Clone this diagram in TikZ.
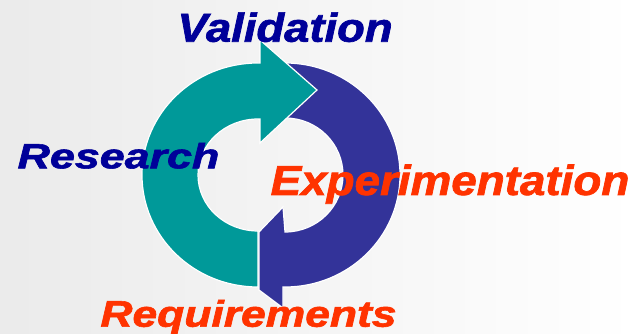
\documentclass[tikz,border=0pt]{standalone}
\usepackage{fontspec}
\setmainfont{Liberation Sans}[BoldItalicFeatures={FakeBold=1.6}]
\definecolor{tealring}{RGB}{0,153,153}
\definecolor{bluering}{RGB}{51,51,153}
\definecolor{navytext}{RGB}{0,0,153}
\definecolor{redtext}{RGB}{255,51,0}
\tikzset{
	ringpart/.style={draw=white, line width=1.2pt, line join=miter},
	steplabel/.style={inner sep=0pt, anchor=base, font=\bfseries\itshape}
}

\begin{document}
\begin{tikzpicture}[x=1pt, y=1pt]
		%%%%% START %%%%%
		\shade[left color=black!8, right color=white] (0, 0) rectangle (636, 334);
		\useasboundingbox (0, 0) rectangle (636, 334);
		
		% right half, arrow pointing back to the left
		\draw[ringpart, fill=bluering] (285, 271)
			arc[start angle=90, end angle=-90, x radius=115, y radius=112]
			-- (283, 47) -- (283, 26) -- (259, 44) -- (259, 102) -- (283, 127) -- (285, 102)
			arc[start angle=-90, end angle=90, x radius=58, y radius=57] -- cycle;
		
		% left half, arrow pointing to the right
		\draw[ringpart, fill=tealring] (258, 47)
			arc[start angle=-90, end angle=-270, x radius=116, y radius=112]
			-- (260, 271) -- (260, 294) -- (317, 244) -- (260, 191) -- (260, 215) -- (258, 215)
			arc[start angle=90, end angle=270, x radius=60, y radius=56] -- cycle;
		
		\node[steplabel, text=navytext, xscale=1.12] (validation) at (285, 292.3) {\fontsize{40.5}{48}\selectfont Validation};
		\node[steplabel, text=navytext, xscale=1.28] (research) at (118.5, 165.7) {\fontsize{35}{42}\selectfont Research};
		\node[steplabel, text=redtext, xscale=1.09] (experimentation) at (450, 139) {\fontsize{42}{50}\selectfont Experimentation};
		\node[steplabel, text=redtext, xscale=1.2] (requirements) at (248.5, 7.3) {\fontsize{37}{44}\selectfont Requirements};
		%%%%% END %%%%%
	\end{tikzpicture}
\end{document}
